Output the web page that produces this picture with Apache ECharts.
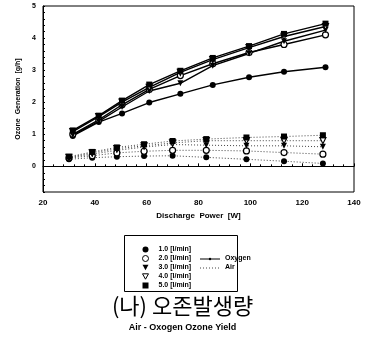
<!DOCTYPE html>
<html>
<head>
<meta charset="utf-8">
<script src="https://cdn.jsdelivr.net/npm/echarts@6/dist/echarts.min.js"></script>
<style>
  html, body { margin: 0; padding: 0; background: #fff; }
  #chart { width: 365px; height: 342px; }
</style>
</head>
<body>
<div id="chart"></div>
<script>
// data
const flowRates = ['1.0 [l/min]', '2.0 [l/min]', '3.0 [l/min]', '4.0 [l/min]', '5.0 [l/min]'];
const oxygenPower = [31.5, 41.5, 50.5, 61, 73, 85.5, 99.5, 113, 129];
const airPower = [30, 39, 48.5, 59, 70, 83, 98.5, 113, 128];

const oxygen10 = [0.95, 1.38, 1.65, 1.99, 2.26, 2.54, 2.78, 2.95, 3.09];
const oxygen20 = [1.0, 1.45, 1.92, 2.4, 2.83, 3.2, 3.55, 3.8, 4.1];
const oxygen30 = [0.98, 1.4, 1.85, 2.35, 2.59, 3.14, 3.52, 3.9, 4.25];
const oxygen40 = [1.08, 1.55, 2.0, 2.46, 2.93, 3.33, 3.7, 4.05, 4.36];
const oxygen50 = [1.12, 1.58, 2.05, 2.55, 2.98, 3.38, 3.75, 4.13, 4.45];

const air10 = [0.22, 0.27, 0.3, 0.32, 0.33, 0.28, 0.22, 0.16, 0.09];
const air20 = [0.26, 0.33, 0.42, 0.47, 0.5, 0.5, 0.48, 0.43, 0.38];
const air30 = [0.27, 0.38, 0.5, 0.6, 0.68, 0.66, 0.64, 0.64, 0.61];
const air40 = [0.28, 0.42, 0.55, 0.64, 0.73, 0.8, 0.8, 0.8, 0.8];
const air50 = [0.3, 0.45, 0.59, 0.69, 0.79, 0.85, 0.9, 0.93, 0.97];

const xTicks = [20, 40, 60, 80, 100, 120, 140];
const yTicks = [0, 1, 2, 3, 4, 5];

const font = 'Liberation Sans, Arial, sans-serif';
const triDown = 'path://M0,0L10,0L5,9Z';

// marker per flow rate: filled circle, open circle, filled tri, open tri, square
const markers = [
  { symbol: 'circle', itemStyle: { color: '#000' } },
  { symbol: 'circle', itemStyle: { color: '#fff', borderColor: '#000', borderWidth: 1.2 } },
  { symbol: triDown, itemStyle: { color: '#000' } },
  { symbol: triDown, itemStyle: { color: '#fff', borderColor: '#000', borderWidth: 1.2 } },
  { symbol: 'rect', itemStyle: { color: '#000' } }
];

const oxygenSets = [oxygen10, oxygen20, oxygen30, oxygen40, oxygen50];
const airSets = [air10, air20, air30, air40, air50];

const pair = (xs, ys) => xs.map((x, i) => [x, ys[i]]);

const series = [];
oxygenSets.forEach((ys, i) => {
  series.push({
    name: flowRates[i],
    type: 'line',
    data: pair(oxygenPower, ys),
    symbol: markers[i].symbol,
    symbolSize: 6,
    itemStyle: markers[i].itemStyle,
    lineStyle: { color: '#000', width: 1.4 },
    z: 3
  });
});
airSets.forEach((ys, i) => {
  series.push({
    name: flowRates[i],
    type: 'line',
    data: pair(airPower, ys),
    symbol: markers[i].symbol,
    symbolSize: 6,
    itemStyle: markers[i].itemStyle,
    lineStyle: { color: '#444', width: 1, type: [1, 2] },
    z: 2
  });
});

const chart = echarts.init(document.getElementById('chart'));
chart.setOption({
  backgroundColor: '#fff',
  animation: false,
  grid: {
    left: 43, right: 11, top: 6, height: 186,
    show: true, borderColor: '#000', borderWidth: 1
  },
  xAxis: {
    type: 'value',
    min: 20, max: 140, interval: 20,
    name: 'Discharge  Power  [W]',
    nameLocation: 'middle',
    nameGap: 17,
    nameTextStyle: { fontFamily: font, fontWeight: 'bold', fontSize: 8, color: '#000' },
    axisLine: { lineStyle: { color: '#000', width: 1 } },
    axisTick: { inside: true, length: 3, lineStyle: { color: '#000' } },
    minorTick: { show: true, splitNumber: 5, length: 2, lineStyle: { color: '#000' } },
    splitLine: { show: false },
    axisLabel: {
      margin: 7, fontFamily: font, fontWeight: 'bold', fontSize: 8, color: '#000',
      formatter: v => xTicks.includes(v) ? String(v) : ''
    }
  },
  yAxis: {
    type: 'value',
    min: -0.8, max: 5, interval: 0.2,
    name: 'Ozone  Generation  [g/h]',
    nameLocation: 'middle',
    nameGap: 18,
    nameTextStyle: { fontFamily: font, fontWeight: 'bold', fontSize: 7, color: '#000' },
    axisLine: { lineStyle: { color: '#000', width: 1 } },
    axisTick: { inside: true, length: 2, lineStyle: { color: '#000' } },
    splitLine: { show: false },
    axisLabel: {
      margin: 7, fontFamily: font, fontWeight: 'bold', fontSize: 7, color: '#000',
      formatter: v => {
        const r = Math.round(v);
        return Math.abs(v - r) < 1e-6 && yTicks.includes(r) ? String(r) : '';
      }
    }
  },
  legend: {
    orient: 'vertical',
    left: 137, top: 241,
    itemWidth: 6, itemHeight: 6, itemGap: 2,
    selectedMode: false,
    itemStyle: { borderWidth: 1 },
    data: flowRates.map((n, i) => ({ name: n, icon: markers[i].symbol })),
    textStyle: { fontFamily: font, fontWeight: 'bold', fontSize: 7, color: '#000', padding: [0, 0, 0, 5], lineHeight: 7 }
  },
  graphic: [
    { type: 'rect', shape: { x: 124.5, y: 235.5, width: 113, height: 56 },
      style: { fill: 'none', stroke: '#000', lineWidth: 1 } },
    { type: 'line', shape: { x1: 200, y1: 259, x2: 220, y2: 259 }, style: { stroke: '#000', lineWidth: 1 } },
    { type: 'circle', shape: { cx: 210, cy: 259, r: 1.2 }, style: { fill: '#000' } },
    { type: 'text', left: 225, top: 255, style: { text: 'Oxygen', font: 'bold 7px ' + font, fill: '#000' } },
    { type: 'line', shape: { x1: 200, y1: 268, x2: 220, y2: 268 }, style: { stroke: '#444', lineWidth: 1, lineDash: [1, 2] } },
    { type: 'text', left: 225, top: 264, style: { text: 'Air', font: 'bold 7px ' + font, fill: '#000' } },
    { type: 'text', left: 'center', top: 295,
      style: { text: '(나) 오존발생량', font: '22px "Noto Sans CJK KR", sans-serif', fill: '#000' } },
    { type: 'text', left: 'center', top: 323,
      style: { text: 'Air - Oxogen Ozone Yield', font: 'bold 9px ' + font, fill: '#000' } }
  ],
  series: series
});
</script>
</body>
</html>
